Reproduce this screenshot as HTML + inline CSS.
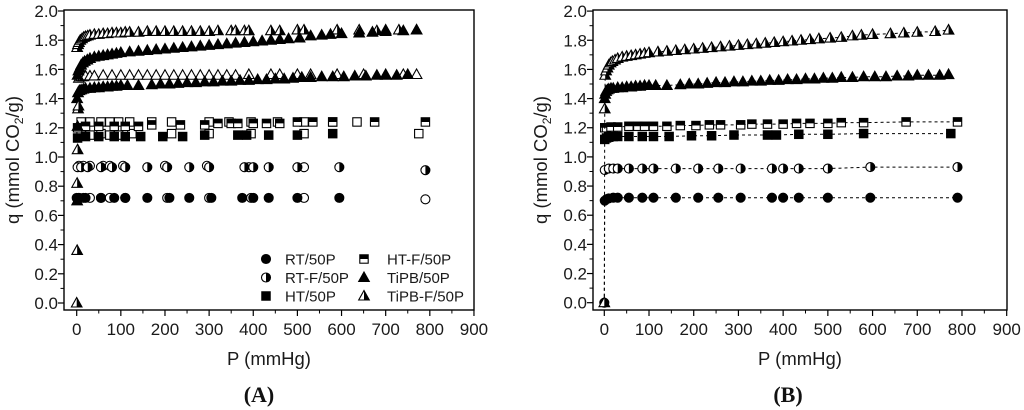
<!DOCTYPE html>
<html><head><meta charset="utf-8"><style>
html,body{margin:0;padding:0;background:#fff;}
svg{display:block;font-family:"Liberation Sans",Arial,sans-serif;}
</style></head><body>
<svg id="fig" width="1024" height="410" viewBox="0 0 1024 410">
<defs>
<clipPath id="clipR"><rect x="0" y="-20" width="20" height="40"/></clipPath>
<clipPath id="clipT"><rect x="-20" y="-20" width="40" height="20"/></clipPath>
</defs>
</svg>
<script>
// ---- Data (P in mmHg, q in mmol CO2/g) ----
const xTicks = [0,100,200,300,400,500,600,700,800,900];
const yTicks = ["0.0","0.2","0.4","0.6","0.8","1.0","1.2","1.4","1.6","1.8","2.0"];

// Panel A
const pA_RT = [0,5,20,55,85,110,160,210,255,305,375,400,435,500,595];
const qA_RT = [0.72,0.72,0.72,0.72,0.72,0.72,0.72,0.72,0.72,0.72,0.72,0.72,0.72,0.72,0.72];
const pA_RTo = [5,15,30,55,75,110,205,300,395,515,790];
const qA_RTo = [0.72,0.72,0.72,0.72,0.72,0.72,0.72,0.72,0.72,0.72,0.71];
const pA_RTF = [2,10,25,55,80,110,160,205,255,300,380,400,435,500,595,790];
const qA_RTF = [0.93,0.93,0.93,0.93,0.93,0.93,0.93,0.93,0.93,0.93,0.93,0.93,0.93,0.93,0.93,0.91];
const pA_RTFo = [5,15,30,60,75,105,200,295,390,515];
const qA_RTFo = [0.94,0.94,0.94,0.94,0.94,0.94,0.94,0.94,0.93,0.93];
const pA_HT = [2,20,50,85,110,145,195,240,290,365,385,435,500,580];
const qA_HT = [1.13,1.14,1.14,1.14,1.14,1.14,1.14,1.14,1.15,1.15,1.15,1.15,1.15,1.16];
const pA_HTo = [10,30,55,75,95,125,215,300,395,515,775];
const qA_HTo = [1.15,1.15,1.16,1.15,1.15,1.16,1.16,1.16,1.16,1.16,1.16];
const pA_HTF = [2,20,50,85,110,140,170,235,290,320,350,365,400,430,460,500,535,580,675,790];
const qA_HTF = [1.20,1.21,1.21,1.21,1.21,1.21,1.22,1.22,1.22,1.23,1.23,1.23,1.23,1.23,1.23,1.24,1.24,1.24,1.24,1.24];
const pA_HTFo = [10,30,55,75,95,120,170,215,300,345,395,455,515,580,635];
const qA_HTFo = [1.24,1.24,1.24,1.24,1.24,1.24,1.24,1.24,1.24,1.24,1.24,1.24,1.24,1.24,1.24];
const pA_TiHi = [2,4,7,10,14,18,24,30,40,50,60,70,80,90,100,120,140,160,180,200,220,240,260,280,300,320,340,360,380,400,420,440,460,480,505,530,555,575,600,640,670,700,740,770];
const qA_TiHi = [1.56,1.59,1.61,1.63,1.645,1.655,1.665,1.675,1.685,1.69,1.695,1.70,1.705,1.71,1.715,1.72,1.725,1.73,1.735,1.74,1.745,1.75,1.755,1.76,1.765,1.77,1.775,1.78,1.785,1.79,1.795,1.80,1.805,1.81,1.815,1.83,1.835,1.84,1.845,1.85,1.855,1.86,1.865,1.87];
const pA_TiLo = [1,3,6,10,15,20,30,40,50,60,70,80,90,100,115,140,170,190,210,230,250,270,290,310,330,350,370,390,410,430,450,470,490,510,530,555,580,605,630,655,680,700,725,750];
const qA_TiLo = [1.40,1.44,1.455,1.46,1.465,1.47,1.47,1.475,1.475,1.48,1.48,1.485,1.485,1.49,1.49,1.49,1.495,1.50,1.50,1.505,1.51,1.51,1.515,1.515,1.52,1.52,1.525,1.525,1.53,1.53,1.535,1.535,1.54,1.545,1.545,1.55,1.55,1.55,1.555,1.555,1.56,1.56,1.56,1.565];
const pA_TiPBlow = [1,2];
const qA_TiPBlow = [0.70,1.21];
const pA_TFHi = [1,3,5,8,12,16,20,25,30,40,50,60,70,80,90,100,110,120,140,160,180,200,220,240,260,280,300,320,350,360,380,390,440,460,500,515,590,640,680,700,730,770];
const qA_TFHi = [1.75,1.77,1.785,1.80,1.81,1.82,1.825,1.83,1.835,1.84,1.84,1.845,1.845,1.85,1.85,1.85,1.855,1.855,1.855,1.86,1.86,1.86,1.86,1.86,1.86,1.86,1.86,1.865,1.865,1.865,1.865,1.865,1.865,1.865,1.87,1.87,1.87,1.87,1.865,1.87,1.87,1.87];
const pA_TFLo = [5,10,15,20,30,40,60,80,100,120,140,160,180,200,220,240,260,280,300,320,340,360,390,440,460,500,530,590,650,700,740,770];
const qA_TFLo = [1.54,1.55,1.55,1.555,1.555,1.555,1.56,1.56,1.56,1.56,1.56,1.56,1.56,1.56,1.56,1.56,1.56,1.56,1.56,1.56,1.56,1.56,1.565,1.565,1.565,1.565,1.565,1.565,1.565,1.565,1.565,1.565];
const pA_TFlow = [0,1,1,2,3,4];
const qA_TFlow = [0.0,0.36,0.82,1.05,1.33,1.35];

// Panel B
const pB_RT = [0,1,5,10,20,30,55,85,110,160,210,255,305,375,400,435,500,595,790];
const qB_RT = [0,0.70,0.71,0.715,0.72,0.72,0.72,0.72,0.72,0.72,0.72,0.72,0.72,0.72,0.72,0.72,0.72,0.72,0.72];
const pB_RTF = [1,10,20,30,55,85,110,160,210,255,305,375,400,435,500,595,790];
const qB_RTF = [0.91,0.92,0.92,0.92,0.92,0.92,0.92,0.92,0.92,0.92,0.92,0.92,0.92,0.92,0.92,0.93,0.93];
const pB_HT = [1,5,10,20,30,55,85,110,145,195,240,290,365,385,435,500,580,775];
const qB_HT = [1.12,1.13,1.135,1.14,1.14,1.14,1.14,1.14,1.14,1.145,1.145,1.15,1.15,1.15,1.155,1.155,1.16,1.16];
const pB_HTF = [1,5,15,30,55,75,90,110,140,170,205,235,260,305,330,365,400,430,460,500,530,580,675,790];
const qB_HTF = [1.20,1.20,1.205,1.205,1.21,1.21,1.21,1.21,1.21,1.215,1.215,1.22,1.22,1.22,1.225,1.225,1.225,1.23,1.23,1.23,1.235,1.235,1.24,1.24];
const pB_Ti = [1,2,4,7,10,15,20,30,40,50,60,70,80,90,100,115,140,170,190,210,230,250,270,290,310,330,350,370,390,410,430,450,470,490,510,530,555,580,605,630,655,680,700,725,750,770];
const qB_Ti = [1.40,1.43,1.45,1.46,1.465,1.47,1.47,1.475,1.475,1.48,1.48,1.485,1.485,1.49,1.49,1.49,1.49,1.495,1.50,1.50,1.505,1.51,1.51,1.515,1.515,1.52,1.52,1.525,1.525,1.53,1.53,1.535,1.535,1.54,1.54,1.545,1.545,1.55,1.55,1.55,1.555,1.555,1.56,1.56,1.56,1.565];
const pB_TF = [0,1,2,4,7,10,14,18,24,30,40,50,60,70,80,90,100,120,140,160,180,200,220,240,260,280,300,320,340,360,380,400,420,440,460,480,505,530,555,575,600,640,670,700,740,770];
const qB_TF = [0,1.33,1.56,1.59,1.61,1.63,1.645,1.655,1.665,1.675,1.685,1.69,1.695,1.70,1.705,1.71,1.715,1.72,1.725,1.73,1.735,1.74,1.745,1.75,1.755,1.76,1.765,1.77,1.775,1.78,1.785,1.79,1.795,1.80,1.805,1.81,1.815,1.82,1.83,1.835,1.84,1.845,1.85,1.855,1.86,1.87];

const legendLabels = ["RT/50P","RT-F/50P","HT/50P","HT-F/50P","TiPB/50P","TiPB-F/50P"];

// ---- Drawing ----
const NS = "http://www.w3.org/2000/svg";
const svg = document.getElementById('fig');
function mk(tag, attrs, parent){
  const e = document.createElementNS(NS, tag);
  for (const k in attrs) e.setAttribute(k, attrs[k]);
  (parent||svg).appendChild(e);
  return e;
}
function marker(g, shape, fill, cx, cy){
  const m = mk('g', {transform:'translate('+cx+','+cy+')'}, g);
  
  
  let d;
  if (shape==='circle') d = {tag:'circle', a:{cx:0,cy:0,r:4.5}};
  else if (shape==='square') d = {tag:'rect', a:{x:-4.2,y:-4.2,width:8.4,height:8.4}};
  else d = {tag:'polygon', a:{points:'0,-5.5 5.3,4 -5.3,4'}};
  const base = Object.assign({}, d.a, {fill: fill==='full'?'#000':'#fff', stroke:'#000','stroke-width':1.1});
  mk(d.tag, base, m);
  if (fill==='half'){
    const hp = Object.assign({}, d.a, {fill:'#000', stroke:'none', 'clip-path': shape==='square'?'url(#clipT)':'url(#clipR)'});
    mk(d.tag, hp, m);
  }
}
function panel(cfg){
  const g = mk('g', {});
  
  
  const X = v => cfg.x0 + v*cfg.xs;
  const Y = v => cfg.y0 - v*cfg.ys;
  const fr = mk('rect', {x:cfg.fx1, y:cfg.fy1, width:cfg.fx2-cfg.fx1, height:cfg.fy2-cfg.fy1, fill:'none', stroke:'#000','stroke-width':1.4}, g);
  
  
  xTicks.forEach((t,i)=>{
    const x = X(t);
    mk('line',{x1:x,y1:cfg.fy2,x2:x,y2:cfg.fy2+6,stroke:'#000','stroke-width':1.2},g);
    if (i<xTicks.length-1){ const xm = X(t+50); mk('line',{x1:xm,y1:cfg.fy2,x2:xm,y2:cfg.fy2+3.5,stroke:'#000','stroke-width':1},g); }
    const tl = mk('text',{x:x,y:cfg.fy2+25,'font-size':17,'text-anchor':'middle',fill:'#1a1a1a'},g);
    tl.textContent = t;
    
    
  });
  yTicks.forEach((t,i)=>{
    const v = parseFloat(t), y = Y(v);
    mk('line',{x1:cfg.fx1-6,y1:y,x2:cfg.fx1,y2:y,stroke:'#000','stroke-width':1.2},g);
    if (i<yTicks.length-1){ const ym = Y(v+0.1); mk('line',{x1:cfg.fx1-3.5,y1:ym,x2:cfg.fx1,y2:ym,stroke:'#000','stroke-width':1},g); }
    const tl = mk('text',{x:cfg.fx1-6,y:y+6,'font-size':17,'text-anchor':'end',fill:'#1a1a1a'},g);
    tl.textContent = t;
    
    
  });
  const xt = mk('text',{x:(cfg.fx1+cfg.fx2)/2+cfg.xtOff,y:365,'font-size':18.5,'text-anchor':'middle',fill:'#1a1a1a'},g);
  xt.textContent = 'P (mmHg)';
  
  
  const yt = mk('text',{transform:'translate('+cfg.ytx+',160) rotate(-90)','font-size':18.5,'text-anchor':'middle',fill:'#1a1a1a'},g);
  yt.innerHTML = 'q (mmol CO<tspan font-size="12" dy="4">2</tspan><tspan dy="-4">/g)</tspan>';
  
  
  const pl = mk('text',{x:(cfg.fx1+cfg.fx2)/2+cfg.plOff,y:402,'font-size':22,'font-weight':'bold','text-anchor':'middle','font-family':'"Liberation Serif",serif',fill:'#111'},g);
  pl.textContent = cfg.label;
  
  
  cfg.series.forEach(s=>{
    const sg = mk('g',{},g);
    
    
    if (s.dash){
      const pts = s.p.map((p,i)=>X(p)+','+Y(s.q[i])).join(' ');
      mk('polyline',{points:pts,fill:'none',stroke:'#000','stroke-width':1,'stroke-dasharray':'3,3'},sg);
    }
    s.p.forEach((p,i)=>marker(sg, s.shape, s.fill, X(p), Y(s.q[i])));
  });
  return g;
}

panel({name:'panel-a', fx1:64, fy1:10, fx2:474, fy2:310, x0:76.7, xs:0.4414, y0:303, ys:146, ytx:19, xtOff:0, plOff:-10, label:'(A)',
  series:[
    {n:'series-rt-f-open', p:pA_RTFo, q:qA_RTFo, shape:'circle', fill:'open'},
    {n:'series-rt-f', p:pA_RTF, q:qA_RTF, shape:'circle', fill:'half'},
    {n:'series-rt-open', p:pA_RTo, q:qA_RTo, shape:'circle', fill:'open'},
    {n:'series-rt', p:pA_RT, q:qA_RT, shape:'circle', fill:'full'},
    {n:'series-ht-open', p:pA_HTo, q:qA_HTo, shape:'square', fill:'open'},
    {n:'series-ht', p:pA_HT, q:qA_HT, shape:'square', fill:'full'},
    {n:'series-ht-f-open', p:pA_HTFo, q:qA_HTFo, shape:'square', fill:'open'},
    {n:'series-ht-f', p:pA_HTF, q:qA_HTF, shape:'square', fill:'half'},
    {n:'series-tipb-f-low', p:pA_TFLo, q:qA_TFLo, shape:'tri', fill:'open'},
    {n:'series-tipb-low', p:pA_TiLo, q:qA_TiLo, shape:'tri', fill:'full'},
    {n:'series-tipb-f-high', p:pA_TFHi, q:qA_TFHi, shape:'tri', fill:'half'},
    {n:'series-tipb-high', p:pA_TiHi, q:qA_TiHi, shape:'tri', fill:'full'},
    {n:'series-tipb-start', p:pA_TiPBlow, q:qA_TiPBlow, shape:'tri', fill:'full'},
    {n:'series-tipb-f-start', p:pA_TFlow, q:qA_TFlow, shape:'tri', fill:'half'}
  ]});

panel({name:'panel-b', fx1:593, fy1:10, fx2:1007, fy2:310, x0:604.3, xs:0.4471, y0:302.7, ys:145.8, ytx:547, xtOff:0, plOff:-12, label:'(B)',
  series:[
    {n:'series-rt', p:pB_RT, q:qB_RT, shape:'circle', fill:'full', dash:true},
    {n:'series-rt-f', p:pB_RTF, q:qB_RTF, shape:'circle', fill:'half', dash:true},
    {n:'series-ht', p:pB_HT, q:qB_HT, shape:'square', fill:'full', dash:true},
    {n:'series-ht-f', p:pB_HTF, q:qB_HTF, shape:'square', fill:'half', dash:true},
    {n:'series-tipb', p:pB_Ti, q:qB_Ti, shape:'tri', fill:'full', dash:true},
    {n:'series-tipb-f', p:pB_TF, q:qB_TF, shape:'tri', fill:'half', dash:true}
  ]});

// Legend (panel A)
const lg = mk('g',{});


const legShapes = [['circle','full'],['circle','half'],['square','full'],['square','half'],['tri','full'],['tri','half']];
legendLabels.forEach((lab,i)=>{
  const col = i<3?0:1, row = i<3?i:i-3;
  const mx = col===0?266:364, y = 259+row*18.5;
  const e = mk('g',{},lg);
  
  
  marker(e, legShapes[i][0], legShapes[i][1], mx, y);
  const t = mk('text',{x:col===0?285:387,y:y+5.5,'font-size':15,fill:'#1a1a1a'},e);
  t.textContent = lab;
});
</script>
</body></html>
